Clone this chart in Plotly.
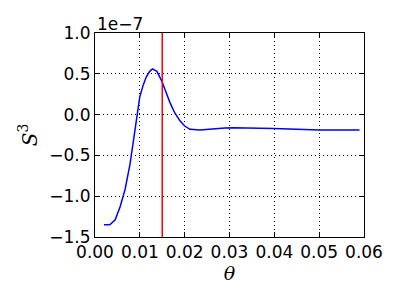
import plotly.graph_objects as go

theta = [0.0020, 0.0033, 0.0045, 0.0056, 0.0067, 0.0078, 0.0086, 0.0093, 0.0100,
         0.0108, 0.0115, 0.0122, 0.0128, 0.0138, 0.0149, 0.0158, 0.0167, 0.0178,
         0.0190, 0.0200, 0.0212, 0.0234, 0.0260, 0.0290, 0.0309, 0.0350, 0.0398,
         0.0450, 0.0500, 0.0550, 0.0590]
s3 = [-1.35, -1.35, -1.29, -1.13, -0.92, -0.61, -0.31, -0.03, 0.22,
      0.37, 0.47, 0.53, 0.56, 0.53, 0.41, 0.28, 0.15, 0.02,
      -0.08, -0.14, -0.18, -0.19, -0.175, -0.165, -0.16, -0.163, -0.17,
      -0.18, -0.19, -0.19, -0.19]
scale = 1e-7
s3_vals = [v * scale for v in s3]
theta_c = 0.015

x_ticks = [0.00, 0.01, 0.02, 0.03, 0.04, 0.05, 0.06]
x_ticktext = ["0.00", "0.01", "0.02", "0.03", "0.04", "0.05", "0.06"]
y_ticks = [-1.5, -1.0, -0.5, 0.0, 0.5, 1.0]
y_ticktext = ["\u22121.5", "\u22121.0", "\u22120.5", "0.0", "0.5", "1.0"]

fig = go.Figure()
fig.add_trace(go.Scatter(x=theta, y=s3_vals, mode="lines",
                         line=dict(color="#0000ff", width=1.5), showlegend=False))
fig.add_vline(x=theta_c, line=dict(color="#ff0000", width=1.5))

font = dict(family="DejaVu Sans", size=17, color="black")
axis_common = dict(showline=True, linecolor="black", linewidth=1, mirror="allticks",
                   ticks="inside", ticklen=5, tickcolor="black",
                   showgrid=True, gridcolor="black", gridwidth=1, griddash="1px,3px",
                   zeroline=False, tickfont=font)
fig.update_xaxes(range=[0, 0.06], tickvals=x_ticks, ticktext=x_ticktext,
                 title=dict(text="<i>θ</i>", font=dict(family="DejaVu Serif", size=19, color="black"),
                            standoff=2), **axis_common)
fig.update_yaxes(range=[-1.5 * scale, 1.0 * scale], tickvals=[v * scale for v in y_ticks],
                 ticktext=y_ticktext,
                 title=dict(text="<i>S</i><sup>3</sup>", font=dict(family="DejaVu Serif", size=20, color="black"),
                            standoff=6), **axis_common)
fig.add_annotation(text="1e\u22127", xref="paper", yref="paper", x=0, y=1,
                   xanchor="left", yanchor="bottom", showarrow=False, font=font, yshift=-3)
fig.update_layout(width=392, height=292, margin=dict(l=87, r=36, t=25, b=63),
                  plot_bgcolor="white", paper_bgcolor="white")
fig.write_html("out.html")
